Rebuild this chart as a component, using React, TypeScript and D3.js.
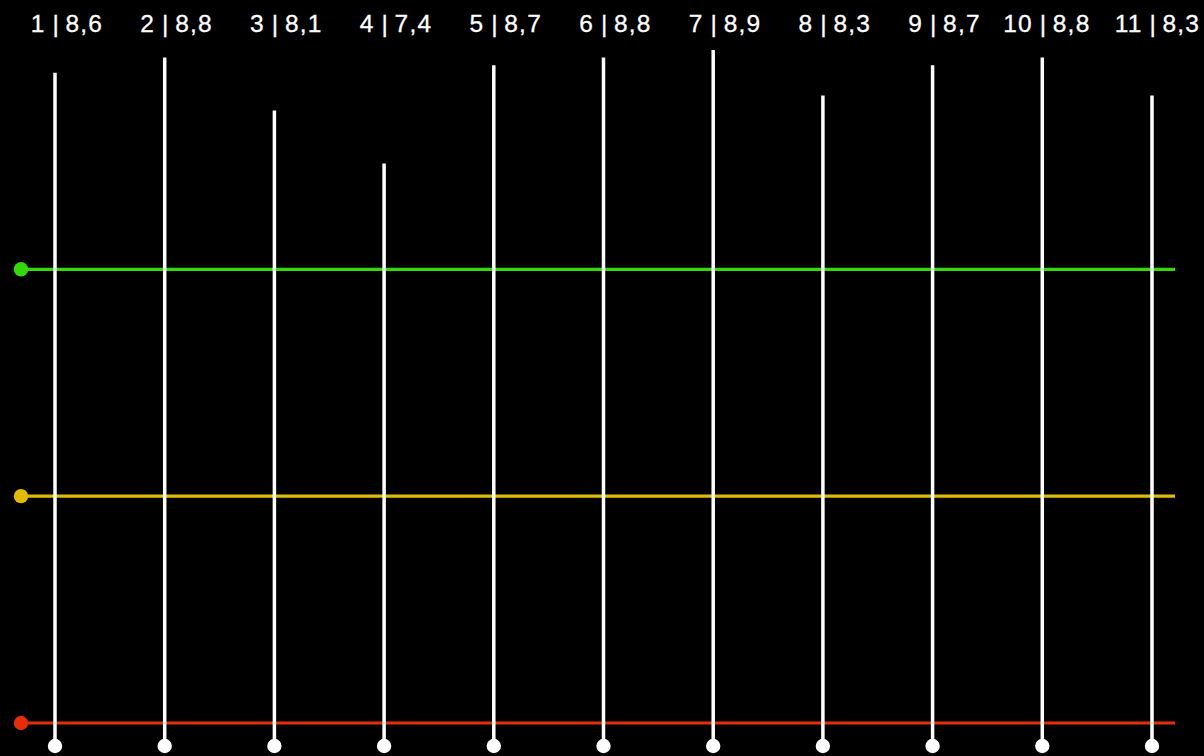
import { useEffect, useRef } from "react";
import * as d3 from "d3";

const episodes = ["1", "2", "3", "4", "5", "6", "7", "8", "9", "10", "11"];
const ratings = [8.6, 8.8, 8.1, 7.4, 8.7, 8.8, 8.9, 8.3, 8.7, 8.8, 8.3];
const labels = ["8,6", "8,8", "8,1", "7,4", "8,7", "8,8", "8,9", "8,3", "8,7", "8,8", "8,3"];
const thresholds = [6, 3, 0];
const thresholdColors = ["#35d80b", "#e2bb0a", "#e42d0a"];

function Chart() {
  const ref = useRef<SVGSVGElement>(null);

  useEffect(() => {
    document.body.style.margin = "0";
    document.body.style.background = "#000";
    const w = 1204;
    const h = 756;
    const svg = d3.select(ref.current).attr("width", w).attr("height", h);
    svg.selectAll("*").remove();

    svg.append("rect").attr("width", w).attr("height", h).attr("fill", "#000");

    const x = d3.scalePoint<string>().domain(episodes).range([55, 1152]);
    const y = d3.scaleLinear().domain([0, 6]).range([723, 269.3]);
    const lineStart = 21;
    const lineEnd = 1175;
    const baseY = y(0) + 23;

    // threshold lines
    const th = svg.append("g");
    th.selectAll("line")
      .data(thresholds)
      .join("line")
      .attr("x1", lineStart)
      .attr("x2", lineEnd)
      .attr("y1", (d) => y(d))
      .attr("y2", (d) => y(d))
      .attr("stroke", (d, i) => thresholdColors[i])
      .attr("stroke-width", 3.2);
    th.selectAll("circle")
      .data(thresholds)
      .join("circle")
      .attr("cx", lineStart)
      .attr("cy", (d) => y(d))
      .attr("r", 7.2)
      .attr("fill", (d, i) => thresholdColors[i]);

    // rating stems
    const g = svg.append("g");
    g.selectAll("line")
      .data(ratings)
      .join("line")
      .attr("x1", (d, i) => x(episodes[i])!)
      .attr("x2", (d, i) => x(episodes[i])!)
      .attr("y1", baseY)
      .attr("y2", (d) => y(d))
      .attr("stroke", "#fff")
      .attr("stroke-width", 3.5);
    g.selectAll("circle")
      .data(ratings)
      .join("circle")
      .attr("cx", (d, i) => x(episodes[i])!)
      .attr("cy", baseY)
      .attr("r", 7.2)
      .attr("fill", "#fff");

    // top labels
    const lab = svg
      .append("g")
      .attr("font-family", "Liberation Sans, Arial, sans-serif")
      .attr("font-size", 24.5)
      .attr("letter-spacing", 1.2)
      .attr("fill", "#fff")
      .attr("stroke", "#fff")
      .attr("stroke-width", 0.3);
    episodes.forEach((ep, i) => {
      const cx = x(ep)!;
      lab.append("text").attr("x", cx - 9.5).attr("y", 31.8).attr("text-anchor", "end").text(ep);
      lab.append("text").attr("x", cx + 0.6).attr("y", 31.8).attr("text-anchor", "middle").attr("letter-spacing", 0).text("|");
      lab.append("text").attr("x", cx + 10.5).attr("y", 31.8).attr("text-anchor", "start").text(labels[i]);
    });
  }, []);

  return <svg ref={ref} style={{ display: "block" }} />;
}

export default function App() {
  return <Chart />;
}
